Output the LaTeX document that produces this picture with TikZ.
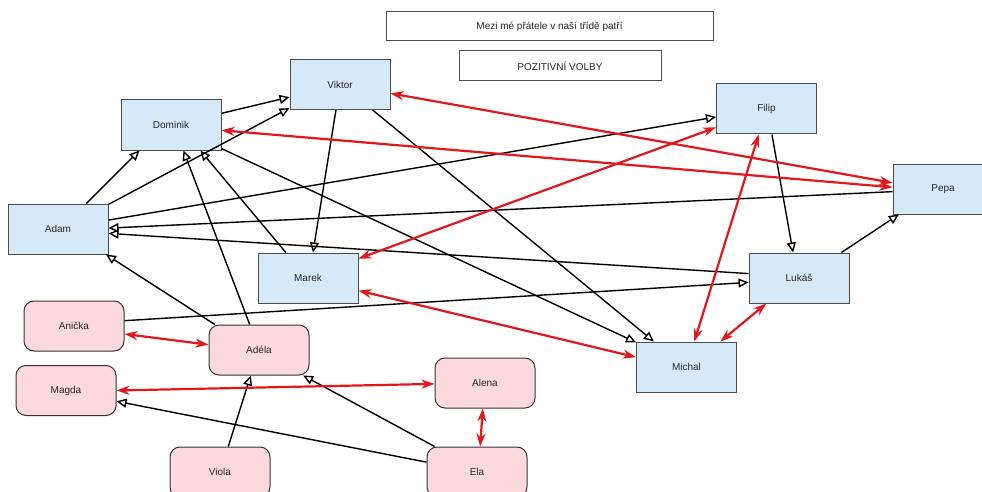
\documentclass[tikz,border=0pt]{standalone}
\usepackage{fontspec}
\setmainfont{Liberation Sans}
\usetikzlibrary{arrows.meta}
\definecolor{boyblue}{HTML}{D6E9F8}
\definecolor{girlpink}{HTML}{FBD9DC}
\definecolor{mutualred}{HTML}{E3161B}

\begin{document}
\begin{tikzpicture}[x=1pt, y=-1pt,
    boy/.style={draw=black!70, line width=1pt, fill=boyblue, minimum width=100pt, minimum height=50pt, text=black!85},
    girl/.style={draw=black!80, line width=1pt, fill=girlpink, rounded corners=10pt, minimum width=100pt, minimum height=50pt, text=black!85},
    infobox/.style={draw=black!70, line width=1pt, fill=white, text=black!85},
    pick/.style={-{Triangle[open,length=10pt,width=9pt]}, line width=1.4pt},
    mutual/.style={{Stealth[length=13pt,width=9pt]}-{Stealth[length=13pt,width=9pt]}, draw=mutualred, line width=2.2pt}]
    \clip (0,0) rectangle (982,492);
    % Nadpis
    \node[infobox, minimum width=327pt, minimum height=29pt] (title) at (549.5,26.5) {Mezi mé přátele v naší třídě patří};
    \node[infobox, minimum width=202pt, minimum height=30pt] (volby) at (560,66) {POZITIVNÍ VOLBY};
    % Chlapci
    \node[boy] (viktor) at (340,84.5) {Viktor};
    \node[boy] (dominik) at (171,125) {Dominik};
    \node[boy] (filip) at (766.5,109) {Filip};
    \node[boy] (pepa) at (943,189) {Pepa};
    \node[boy] (adam) at (58,229) {Adam};
    \node[boy] (marek) at (308,278) {Marek};
    \node[boy] (lukas) at (799,278) {Lukáš};
    \node[boy] (michal) at (686.5,367) {Michal};
    % Dívky
    \node[girl] (anicka) at (74,326) {Anička};
    \node[girl] (adela) at (259,350) {Adéla};
    \node[girl] (magda) at (66,390.5) {Magda};
    \node[girl] (alena) at (485,383) {Alena};
    \node[girl] (viola) at (220,472) {Viola};
    \node[girl] (ela) at (477,472) {Ela};
    % Jednostranné volby
    \draw[pick] (dominik.13) -- (viktor.194);
    \draw[pick] (adam.26) -- (viktor.205);
    \draw[pick] (adam.42) -- (dominik.219);
    \draw[pick] (adela.110) -- (dominik.296);
    \draw[pick] (marek.131) -- (dominik.319);
    \draw[pick] (dominik.335) -- (michal.154);
    \draw[pick] (viktor.322) -- (michal.142);
    \draw[pick] (viktor.261) -- (marek.79);
    \draw[pick] (adam.10) -- (filip.189);
    \draw[pick] (pepa.183) -- (adam.1);
    \draw[pick] (lukas.175) -- (adam.355);
    \draw[pick] (anicka.6) -- (lukas.185);
    \draw[pick] (adela.150) -- (adam.332);
    \draw[pick] (filip.282) -- (lukas.103);
    \draw[pick] (lukas.31) -- (pepa.210);
    \draw[pick] (viola.72) -- (adela.252);
    \draw[pick] (ela.149) -- (adela.330);
    \draw[pick] (ela.169) -- (magda.348);
    % Vzájemné volby
    \draw[mutual] (viktor.350) -- (pepa.173);
    \draw[mutual] (dominik.354) -- (pepa.178);
    \draw[mutual] (marek.21) -- (filip.200);
    \draw[mutual] (marek.346) -- (michal.169);
    \draw[mutual] (filip.253) -- (michal.73);
    \draw[mutual] (lukas.218) -- (michal.37);
    \draw[mutual] (anicka.351) -- (adela.174);
    \draw[mutual] (magda.0) -- (alena.181);
    \draw[mutual] (alena.265) -- (ela.83);
\end{tikzpicture}
\end{document}
